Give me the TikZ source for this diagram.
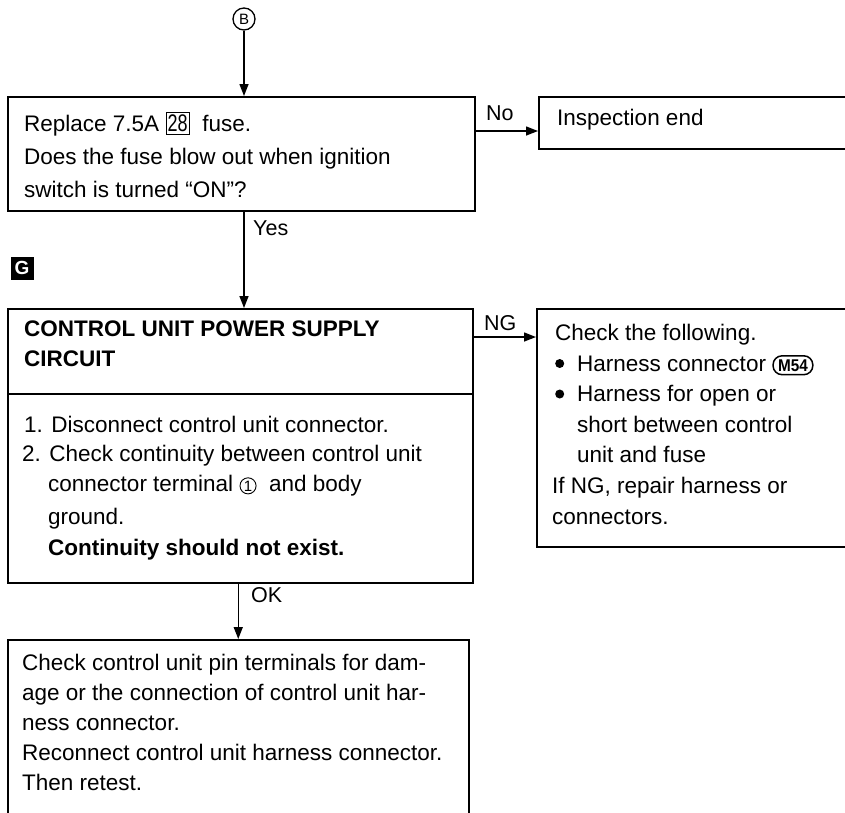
\documentclass[tikz,border=0pt]{standalone}
\usepackage{fontspec}
\setmainfont{Liberation Sans}
\usetikzlibrary{arrows.meta,calc}
\newcommand{\circnum}[1]{\tikz[baseline=(cn.base)]\node[circle,draw,line width=0.9pt,inner sep=1pt,font=\fontsize{15}{15}\selectfont](cn){#1};}
\newcommand{\fusebox}[1]{\tikz[baseline=(fb.base)]\node[draw,line width=1.2pt,inner xsep=1.5pt,inner ysep=2.5pt,font=\fontsize{24}{24}\selectfont](fb){\scalebox{0.75}[1]{#1}};}
\newcommand{\connbadge}[1]{\tikz[baseline=(cb.base)]\node[draw,rounded corners=9pt,line width=1.5pt,inner xsep=5pt,inner ysep=3.5pt,font=\bfseries\fontsize{17}{17}\selectfont](cb){\scalebox{0.9}[1]{#1}};}
\newcommand{\bul}{\makebox[22pt][l]{\tikz[baseline=-7.5pt]\fill (4.5pt,0pt) circle (4.5pt);}}
\begin{document}
\begin{tikzpicture}[x=1pt,y=-1pt,
  box/.style={draw,line width=1.5pt,anchor=north west,inner sep=0pt},
  ln/.style={anchor=base west,inner sep=0pt,font=\fontsize{22.5}{27}\selectfont},
  bln/.style={ln,font=\bfseries\fontsize{22.5}{27}\selectfont},
  lbl/.style={anchor=base west,inner sep=0pt,font=\fontsize{21.5}{25}\selectfont},
  arr/.style={-{Triangle[length=12pt,width=9pt]},line width=1.4pt}]
\useasboundingbox (0,0) rectangle (845,812);
\clip (0,0) rectangle (845,812);

% circled B
\node[circle,draw,line width=1.3pt,minimum size=22pt,inner sep=0pt,font=\fontsize{15}{15}\selectfont] (B) at (244,19) {B};

% box 1
\node[box,minimum width=467pt,minimum height=114pt] (b1) at (7,96) {};
\node[ln] (b1l1) at (24,131.5) {Replace 7.5A \fusebox{28}\ \ fuse.};
\node[ln] (b1l2) at (24,164.5) {Does the fuse blow out when ignition};
\node[ln] (b1l3) at (24,197.5) {switch is turned “ON”?};

% inspection end
\node[box,minimum width=330pt,minimum height=52pt] (insp) at (538,96) {};
\node[ln] (inspt) at (557,125.5) {Inspection end};

% G marker
\node[fill=black,minimum size=23pt,inner sep=0pt,text=white,font=\bfseries\fontsize{19}{19}\selectfont] (G) at (22,268) {G};

% box 2
\node[box,minimum width=465pt,minimum height=85pt] (b2h) at (7,308) {};
\node[box,minimum width=465pt,minimum height=189pt] (b2b) at (7,393) {};
\node[bln] (b2l1) at (24,336.5) {CONTROL UNIT POWER SUPPLY};
\node[bln] (b2l2) at (24,366.5) {CIRCUIT};
\node[ln] (b2l3) at (24,432) {1. Disconnect control unit connector.};
\node[ln] (b2l4) at (22,461) {2. Check continuity between control unit};
\node[ln] (b2l5) at (48,491) {connector terminal \circnum{1}\ \ and body};
\node[ln] (b2l6) at (48,524) {ground.};
\node[bln] (b2l7) at (48,555) {Continuity should not exist.};

% NG box
\node[box,minimum width=330pt,minimum height=238pt] (ngb) at (536,308) {};
\node[ln] (n1) at (555,340.5) {Check the following.};
\node[ln] (n2) at (555,371) {\bul Harness connector \connbadge{M54}};
\node[ln] (n3) at (555,401.5) {\bul Harness for open or};
\node[ln] (n4) at (577,432) {short between control};
\node[ln] (n5) at (577,462.5) {unit and fuse};
\node[ln] (n6) at (552,493) {If NG, repair harness or};
\node[ln] (n7) at (552,524) {connectors.};

% bottom box
\node[box,minimum width=461pt,minimum height=200pt] (b3) at (7,639) {};
\node[ln] (b3l1) at (22,670.5) {Check control unit pin terminals for dam-};
\node[ln] (b3l2) at (22,700.5) {age or the connection of control unit har-};
\node[ln] (b3l3) at (22,730.5) {ness connector.};
\node[ln] (b3l4) at (22,760.5) {Reconnect control unit harness connector.};
\node[ln] (b3l5) at (22,790.5) {Then retest.};

% connectors
\draw[arr] (B) -- (B |- b1.north);
\draw[arr] (B |- b1.south) -- (B |- b2h.north);
\draw[arr] ([yshift=-35pt]b1.north east) -- ([yshift=-35pt]b1.north east -| insp.west);
\draw[arr] ([yshift=-29pt]b2h.north east) -- ([yshift=-29pt]b2h.north east -| ngb.west);
\draw[arr] (b3.north |- b2b.south) -- (b3.north);

% labels
\node[lbl] (no) at (486,120) {No};
\node[lbl] (yes) at (253,235.5) {Yes};
\node[lbl] (ng) at (484,330.5) {NG};
\node[lbl] (ok) at (251,602.5) {OK};
\end{tikzpicture}
\end{document}
